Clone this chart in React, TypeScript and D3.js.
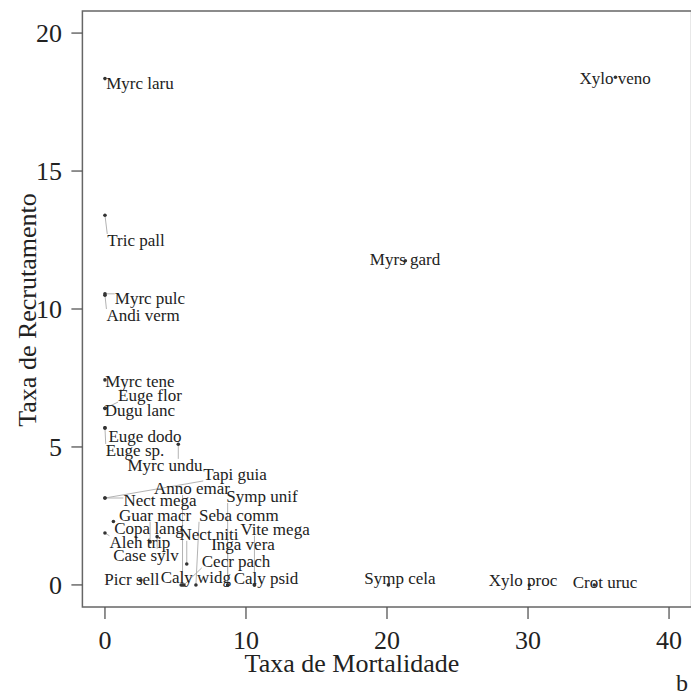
import React, { useRef, useEffect } from "react";
import * as d3 from "d3";

// species codes, mortality (x) and recruitment (y) rates
const species = [
  "Myrc laru", "Xylo veno", "Tric pall", "Myrs gard", "Myrc pulc", "Andi verm",
  "Myrc tene", "Euge flor", "Dugu lanc", "Euge dodo", "Euge sp.", "Myrc undu",
  "Tapi guia", "Anno emar", "Symp unif", "Nect mega", "Guar macr", "Seba comm",
  "Copa lang", "Nect niti", "Vite mega", "Aleh trip", "Inga vera", "Case sylv",
  "Cecr pach", "Picr sell", "Caly widg", "Caly psid", "Symp cela", "Xylo proc",
  "Crot uruc",
];
const mortality = [
  0, 36.2, 0, 21.3, 0, 0,
  0, 0, 0, 0, 0, 5.2,
  0, 5.5, 8.7, 0, 3.2, 6.45,
  0.6, 5.8, 10.6, 0, 8.7, 3.7,
  5.6, 2.55, 5.4, 10.6, 20.1, 30.1,
  34.7,
];
const recruitment = [
  18.35, 18.4, 13.4, 11.75, 10.55, 10.5,
  7.43, 6.4, 6.4, 5.69, 5.69, 5.1,
  3.15, 0, 0, 3.15, 1.56, 0,
  2.3, 0.76, 0, 1.88, 0, 1.75,
  0, 0.18, 0, 0, 0, 0,
  0,
];

// where the repelled labels ended up (data units)
const labelX = [
  2.48, 36.17, 2.2, 21.28, 3.19, 2.7,
  2.48, 3.19, 2.48, 2.84, 2.13, 4.26,
  9.22, 6.17, 11.13, 3.9, 3.55, 9.5,
  3.12, 7.38, 12.06, 2.48, 9.79, 2.91,
  9.29, 1.91, 6.45, 11.42, 20.92, 29.65,
  35.46,
];
const labelY = [
  18.19, 18.37, 12.5, 11.81, 10.4, 9.78,
  7.39, 6.88, 6.34, 5.4, 4.89, 4.35,
  4.02, 3.51, 3.22, 3.08, 2.54, 2.54,
  2.07, 1.85, 2.03, 1.56, 1.49, 1.09,
  0.87, 0.22, 0.29, 0.25, 0.25, 0.18,
  0.11,
];

const xTicks = [0, 10, 20, 30, 40];
const yTicks = [0, 5, 10, 15, 20];

const W = 691;
const H = 695;
const serif = "'Liberation Serif', 'DejaVu Serif', serif";

function App() {
  const svgRef = useRef(null);

  useEffect(() => {
    document.body.style.margin = "0";
    const svg = d3.select(svgRef.current);
    svg.selectAll("*").remove();

    const x = d3.scaleLinear().domain([-1.6, 41.6]).range([82.4, 691.6]);
    const y = d3.scaleLinear().domain([-0.8, 20.8]).range([607, 11]);
    const [x0, x1] = x.range();
    const [y0, y1] = y.range();

    svg.append("defs").append("clipPath").attr("id", "plotclip")
      .append("rect")
      .attr("x", x0).attr("y", y1)
      .attr("width", x1 - x0).attr("height", y0 - y1);

    const data = species.map((name, i) => ({
      name,
      mx: mortality[i],
      ry: recruitment[i],
      lx: labelX[i],
      ly: labelY[i],
    }));

    const plot = svg.append("g").attr("clip-path", "url(#plotclip)");
    const segLayer = plot.append("g");
    const ptLayer = plot.append("g");
    const txtLayer = plot.append("g");

    const labels = txtLayer
      .selectAll("text")
      .data(data)
      .join("text")
      .attr("x", (d) => x(d.lx))
      .attr("y", (d) => y(d.ly))
      .attr("dy", "0.35em")
      .attr("text-anchor", "middle")
      .attr("font-family", serif)
      .attr("font-size", 17)
      .attr("fill", "#222")
      .text((d) => d.name);

    // segment from point to closest edge of its label box
    const segs = [];
    labels.each(function (d) {
      const b = this.getBBox();
      const px = x(d.mx);
      const py = y(d.ry);
      const cx = Math.max(b.x, Math.min(px, b.x + b.width));
      const cy = Math.max(b.y + 3, Math.min(py, b.y + b.height - 3));
      if (Math.hypot(px - cx, py - cy) > 5) {
        segs.push({ x1: px, y1: py, x2: cx, y2: cy });
      }
    });

    segLayer
      .selectAll("line")
      .data(segs)
      .join("line")
      .attr("x1", (d) => d.x1)
      .attr("y1", (d) => d.y1)
      .attr("x2", (d) => d.x2)
      .attr("y2", (d) => d.y2)
      .attr("stroke", "#aaa")
      .attr("stroke-width", 0.9);

    ptLayer
      .selectAll("circle")
      .data(data)
      .join("circle")
      .attr("cx", (d) => x(d.mx))
      .attr("cy", (d) => y(d.ry))
      .attr("r", 1.8)
      .attr("fill", "#333");

    // frame
    svg.append("rect")
      .attr("x", x0).attr("y", y1)
      .attr("width", x1 - x0).attr("height", y0 - y1)
      .attr("fill", "none")
      .attr("stroke", "#666")
      .attr("stroke-width", 1.5);

    // x axis
    const xa = svg.append("g");
    xa.selectAll("line")
      .data(xTicks)
      .join("line")
      .attr("x1", (d) => x(d)).attr("x2", (d) => x(d))
      .attr("y1", y0).attr("y2", y0 + 12)
      .attr("stroke", "#555").attr("stroke-width", 1.3);
    xa.selectAll("text")
      .data(xTicks)
      .join("text")
      .attr("x", (d) => x(d))
      .attr("y", 649)
      .attr("text-anchor", "middle")
      .attr("font-family", serif)
      .attr("font-size", 26)
      .attr("fill", "#222")
      .text((d) => d);

    // y axis
    const ya = svg.append("g");
    ya.selectAll("line")
      .data(yTicks)
      .join("line")
      .attr("x1", x0).attr("x2", x0 - 11)
      .attr("y1", (d) => y(d)).attr("y2", (d) => y(d))
      .attr("stroke", "#555").attr("stroke-width", 1.3);
    ya.selectAll("text")
      .data(yTicks)
      .join("text")
      .attr("x", 62)
      .attr("y", (d) => y(d))
      .attr("dy", "0.35em")
      .attr("text-anchor", "end")
      .attr("font-family", serif)
      .attr("font-size", 26)
      .attr("fill", "#222")
      .text((d) => d);

    svg.append("text")
      .attr("x", 352)
      .attr("y", 672)
      .attr("text-anchor", "middle")
      .attr("font-family", serif)
      .attr("font-size", 26)
      .attr("fill", "#222")
      .text("Taxa de Mortalidade");

    svg.append("text")
      .attr("transform", "translate(36,310) rotate(-90)")
      .attr("text-anchor", "middle")
      .attr("font-family", serif)
      .attr("font-size", 26)
      .attr("fill", "#222")
      .text("Taxa de Recrutamento");

    svg.append("text")
      .attr("x", 676)
      .attr("y", 691)
      .attr("font-family", serif)
      .attr("font-size", 24)
      .attr("fill", "#222")
      .text("b");
  }, []);

  return (
    <svg
      ref={svgRef}
      width={W}
      height={H}
      style={{ position: "absolute", left: 0, top: 0, background: "#fff" }}
    ></svg>
  );
}

export default App;
